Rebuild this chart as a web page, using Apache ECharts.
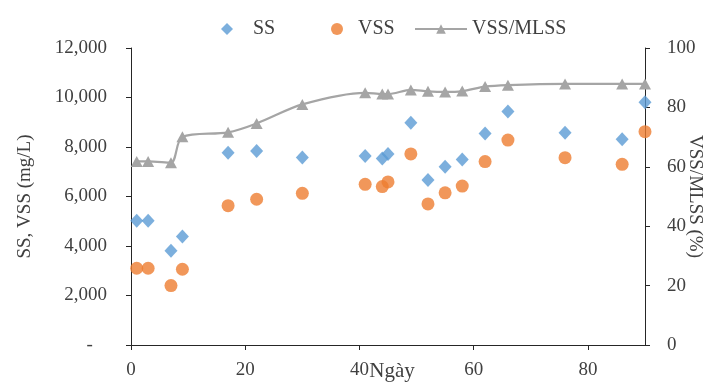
<!DOCTYPE html>
<html>
<head>
<meta charset="utf-8">
<script src="https://cdn.jsdelivr.net/npm/echarts@6/dist/echarts.min.js"></script>
<style>
html,body{margin:0;padding:0;background:#fff;}
#chart{position:absolute;left:0;top:0;width:713px;height:385px;}
</style>
</head>
<body>
<div id="chart"></div>
<script>
const days = [1, 3, 7, 9, 17, 22, 30, 41, 44, 45, 49, 52, 55, 58, 62, 66, 76, 86, 90];
const ssValues = [5020, 5020, 3810, 4380, 7770, 7840, 7580, 7640, 7540, 7720, 8980, 6670, 7200, 7500, 8550, 9430, 8580, 8310, 9810];
const vssValues = [3100, 3100, 2400, 3060, 5630, 5890, 6130, 6490, 6400, 6590, 7720, 5700, 6150, 6420, 7410, 8280, 7570, 7300, 8620];
const ratioValues = [61.8, 61.8, 61.4, 70.1, 71.6, 74.6, 81.0, 84.9, 84.5, 84.5, 85.9, 85.4, 85.2, 85.5, 87.0, 87.5, 87.9, 87.9, 87.9];
const seriesNames = ['SS', 'VSS', 'VSS/MLSS'];
const xAxisTitle = 'Ngày';
const leftAxisTitle = 'SS, VSS (mg/L)';
const rightAxisTitle = 'VSS/MLSS (%)';

const FONT = 'Liberation Serif';
const TXT = '#404040';
const AX = '#262626';
const pair = (xs, ys) => xs.map((x, i) => [x, ys[i]]);

const chart = echarts.init(document.getElementById('chart'));
const hiddenSplit = () => ({show: true, lineStyle: {color: 'rgba(255,255,255,0)'}});

chart.setOption({
  animation: false,
  grid: {left: 131, right: 68, top: 48, bottom: 40, outerBoundsMode: 'none'},
  legend: [
    {data: [seriesNames[0]], left: 216, top: 14, itemWidth: 12, itemHeight: 12,
     formatter: n => '   ' + n, textStyle: {fontFamily: FONT, fontSize: 20, color: TXT}},
    {data: [seriesNames[1]], left: 326, top: 14, itemWidth: 12, itemHeight: 12,
     formatter: n => '  ' + n, textStyle: {fontFamily: FONT, fontSize: 20, color: TXT}},
    {data: [seriesNames[2]], left: 409, top: 14, itemWidth: 52, itemHeight: 12,
     textStyle: {fontFamily: FONT, fontSize: 20, color: TXT}}
  ],
  xAxis: {
    type: 'value', min: 0, max: 90, interval: 20,
    name: xAxisTitle, nameLocation: 'middle', nameGap: 16, nameMoveOverlap: false,
    nameTextStyle: {fontFamily: FONT, fontSize: 21, color: TXT, padding: [0, 0, 0, 8]},
    axisLine: {show: true, lineStyle: {color: AX}},
    axisTick: {show: true, length: 5, lineStyle: {color: AX}},
    splitLine: hiddenSplit(),
    axisLabel: {fontFamily: FONT, fontSize: 19, color: TXT, margin: 16, showMaxLabel: false}
  },
  yAxis: [
    {type: 'value', min: 0, max: 12000, interval: 2000,
     name: leftAxisTitle, nameLocation: 'middle', nameRotate: 90, nameGap: 96, nameMoveOverlap: false,
     nameTextStyle: {fontFamily: FONT, fontSize: 19, color: TXT},
     axisLine: {show: true, lineStyle: {color: AX}},
     axisTick: {show: true, length: 5, lineStyle: {color: AX}},
     splitLine: hiddenSplit(),
     axisLabel: {fontFamily: FONT, fontSize: 19, color: TXT, margin: 24,
       formatter: v => v === 0 ? '-   ' : v.toLocaleString('en-US')}},
    {type: 'value', min: 0, max: 100, interval: 20, position: 'right',
     name: rightAxisTitle, nameLocation: 'middle', nameRotate: -90, nameGap: 40, nameMoveOverlap: false,
     nameTextStyle: {fontFamily: FONT, fontSize: 19, color: TXT},
     axisLine: {show: true, lineStyle: {color: AX}},
     axisTick: {show: true, length: 5, lineStyle: {color: AX}},
     splitLine: hiddenSplit(),
     axisLabel: {fontFamily: FONT, fontSize: 19, color: TXT, margin: 22}}
  ],
  series: [
    {name: seriesNames[2], type: 'line', yAxisIndex: 1, smooth: 0.3,
     data: pair(days, ratioValues), symbol: 'triangle', symbolSize: [12, 11],
     lineStyle: {color: '#A5A5A5', width: 2.2}, itemStyle: {color: '#A5A5A5'}},
    {name: seriesNames[0], type: 'scatter', yAxisIndex: 0,
     data: pair(days, ssValues), symbol: 'diamond', symbolSize: [13, 14],
     itemStyle: {color: '#5B9BD5'}},
    {name: seriesNames[1], type: 'scatter', yAxisIndex: 0,
     data: pair(days, vssValues), symbol: 'circle', symbolSize: 13,
     itemStyle: {color: '#ED7D31'}}
  ]
});
</script>
</body>
</html>
